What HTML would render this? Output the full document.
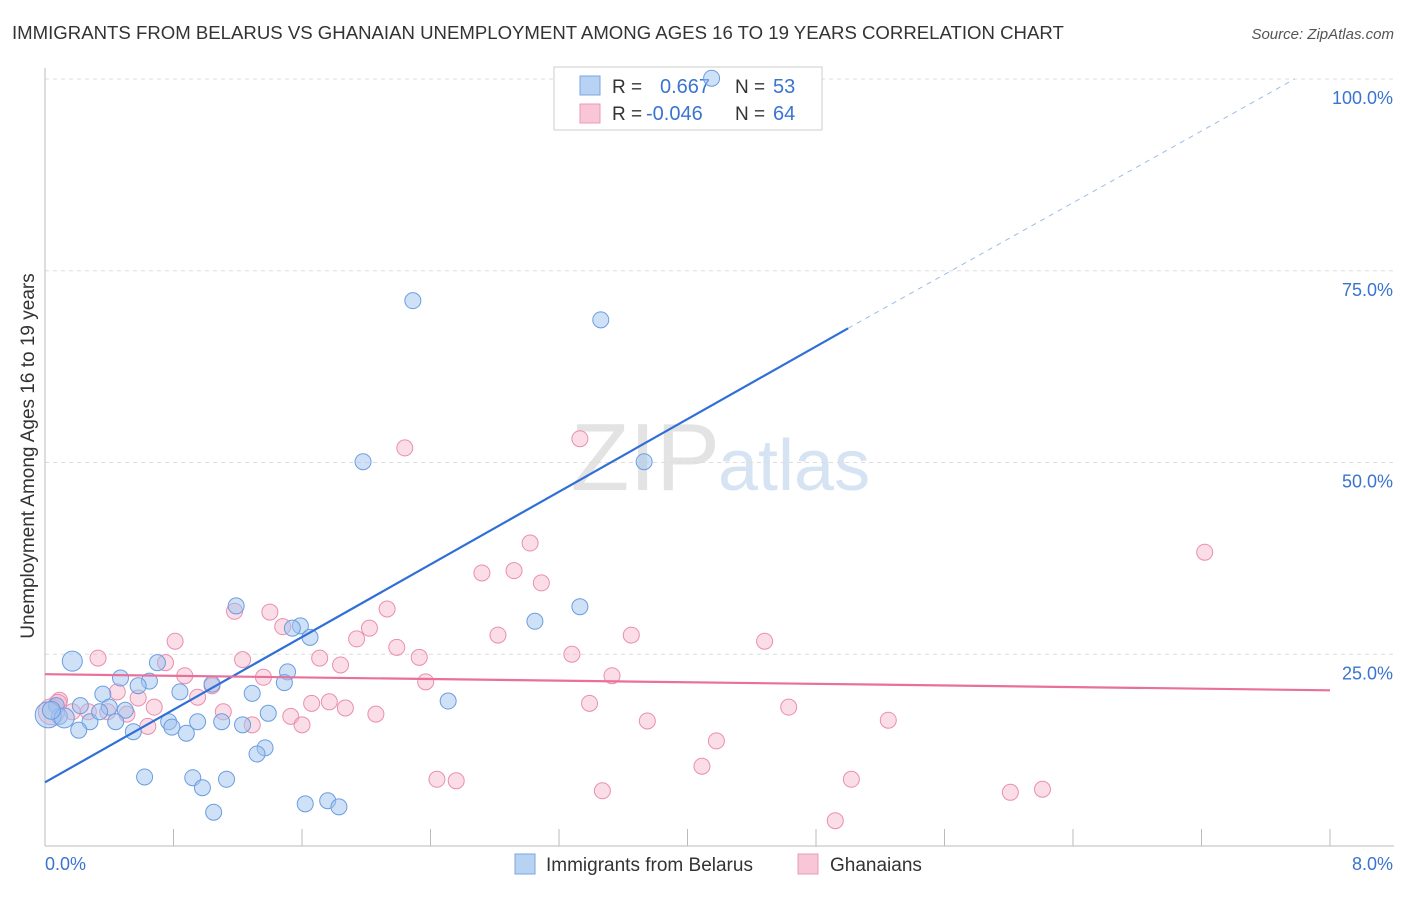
<!DOCTYPE html>
<html><head><meta charset="utf-8"><style>
body{margin:0;background:#fff;font-family:"Liberation Sans",sans-serif}
svg text{font-family:"Liberation Sans",sans-serif}
</style></head><body>
<svg id="chart" width="1406" height="892" xmlns="http://www.w3.org/2000/svg">
<text x="12" y="39" font-size="18.6" fill="#333">IMMIGRANTS FROM BELARUS VS GHANAIAN UNEMPLOYMENT AMONG AGES 16 TO 19 YEARS CORRELATION CHART</text>
<text x="1394" y="39" font-size="15" fill="#555" text-anchor="end" font-style="italic">Source: ZipAtlas.com</text>
<text x="720" y="490" font-size="96" fill="#e3e3e3" text-anchor="end" font-family="Liberation Serif">ZIP</text>
<text x="718" y="490" font-size="72" fill="#d6e3f3">atlas</text>
<g id="grid"></g>
<g id="axes"></g>
<g>
<rect x="554" y="67" width="268" height="63" fill="#fff" stroke="#ccc"/>
<rect x="580" y="76" width="20" height="19" fill="#b8d2f3" stroke="#7aa6e0"/>
<rect x="580" y="104" width="20" height="19" fill="#f8c6d6" stroke="#e99ab4"/>
<text x="612" y="93" font-size="19" fill="#333">R = </text><text x="660" y="93" font-size="20" fill="#3a74d0">0.667</text>
<text x="735" y="93" font-size="19" fill="#333">N = </text><text x="773" y="93" font-size="20" fill="#3a74d0">53</text>
<text x="612" y="120" font-size="19" fill="#333">R = </text><text x="646" y="120" font-size="20" fill="#3a74d0">-0.046</text>
<text x="735" y="120" font-size="19" fill="#333">N = </text><text x="773" y="120" font-size="20" fill="#3a74d0">64</text>
</g>
<g id="marks"></g>
<text transform="translate(34,456) rotate(-90)" font-size="19" fill="#333" text-anchor="middle">Unemployment Among Ages 16 to 19 years</text>
<g>
<rect x="515" y="854" width="20" height="20" fill="#b8d2f3" stroke="#7aa6e0"/>
<text x="546" y="871" font-size="19" fill="#333">Immigrants from Belarus</text>
<rect x="798" y="854" width="20" height="20" fill="#f8c6d6" stroke="#e99ab4"/>
<text x="830" y="871" font-size="19" fill="#333">Ghanaians</text>
</g>
</svg>
<script>
const xTicks=[0,0.8,1.6,2.4,3.2,4,4.8,5.6,6.4,7.2,8];
const yTicks=[25,50,75,100];
const yTickLabels=["25.0%","50.0%","75.0%","100.0%"];
const blueX=[4.15,2.29,3.46,1.98,3.73,1.19,3.33,3.05,1.59,1.54,1.65,0.17,0.70,0.47,1.51,0.65,1.49,1.04,0.84,0.36,1.29,2.51,0.58,0.07,0.22,0.40,0.50,0.09,0.28,0.44,0.77,0.95,1.10,1.23,0.79,1.39,0.21,0.55,0.88,1.37,1.32,0.62,0.92,1.13,0.98,1.62,1.76,1.83,1.05,0.02,0.12,0.04,0.34];
const blueY=[100.1,71.1,68.6,50.1,50.1,31.3,31.2,29.3,28.7,28.4,27.2,24.1,23.9,21.9,22.7,21.5,21.3,21.1,20.1,19.8,19.9,18.9,20.9,18.3,18.3,18.1,17.7,16.9,16.2,16.2,16.2,16.2,16.2,15.8,15.5,17.3,15.1,14.9,14.7,12.8,12.0,9.0,8.9,8.7,7.6,5.5,5.9,5.1,4.4,17.1,16.7,17.7,17.5];
const blueR=[8,8,8,8,8,8,8,8,8,8,8,10,8,8,8,8,8,8,8,8,8,8,8,8,8,8,8,8,8,8,8,8,8,8,8,8,8,8,8,8,8,8,8,8,8,8,8,8,8,13,10,9,8];
const pinkX=[3.33,2.24,3.02,7.22,2.72,2.92,3.09,1.40,2.13,1.18,2.02,1.48,2.82,3.65,0.81,4.48,1.94,2.19,0.33,0.75,1.23,1.71,2.33,3.28,1.84,0.87,1.36,3.53,2.37,1.04,0.45,0.58,0.95,1.66,1.77,3.39,4.63,0.09,0.17,0.27,0.39,0.51,0.68,1.11,1.53,1.87,2.06,0.64,1.29,1.60,3.75,5.25,4.18,4.09,2.44,2.56,5.02,3.47,6.01,6.21,4.92,0.04,0.08];
const pinkY=[53.1,51.9,39.5,38.3,35.6,35.9,34.3,30.5,30.9,30.6,28.4,28.6,27.5,27.5,26.7,26.7,27.0,25.9,24.5,23.9,24.3,24.5,24.6,25.0,23.6,22.2,22.0,22.2,21.4,20.9,20.1,19.3,19.4,18.6,18.8,18.6,18.1,19.0,17.5,17.5,17.5,17.2,18.1,17.5,16.9,18.0,17.2,15.6,15.8,15.8,16.3,16.4,13.7,10.4,8.7,8.5,8.7,7.2,7.0,7.4,3.3,17.5,18.6];
const blueTrend=[8.3,67.5];const blueTrendX=[0,5.0];const blueDashEnd=[7.78,100.0];
const pinkTrend=[22.4,20.3];

const X0=45,X1=1330,Y0=846,Y100=79;
const sx=v=>X0+(X1-X0)*v/8;
const sy=v=>Y0-(Y0-Y100)*v/100;
const NS="http://www.w3.org/2000/svg";
function mk(parent,tag,attrs){const e=document.createElementNS(NS,tag);for(const k in attrs)e.setAttribute(k,attrs[k]);document.getElementById(parent).appendChild(e);return e;}
yTicks.forEach((t,i)=>{
 const l=mk('grid','line',{x1:X0,x2:1394,y1:sy(t),y2:sy(t),stroke:'#ddd','stroke-dasharray':'4,4'});
 
 
 const tx=mk('axes','text',{x:1393,y:sy(t)+25,'font-size':18,fill:'#3a74d0','text-anchor':'end'});
 tx.textContent=yTickLabels[i];
 
 
});
const ax=mk('axes','line',{x1:X0,x2:X1+64,y1:Y0,y2:Y0,stroke:'#bbb'});


const ay=mk('axes','line',{x1:X0,x2:X0,y1:68,y2:Y0,stroke:'#bbb'});


xTicks.forEach(t=>{
 const l=mk('axes','line',{x1:sx(t),x2:sx(t),y1:Y0,y2:Y0-17,stroke:'#bbb'});
 
 
});
[[0,"0.0%","start",45],[8,"8.0%","end",1393]].forEach(a=>{
 const tx=mk('axes','text',{x:a[3],y:870,'font-size':18,fill:'#3a74d0','text-anchor':a[2]});
 tx.textContent=a[1];
 
 
});
pinkX.forEach((x,i)=>{
 const c=mk('marks','circle',{cx:sx(x),cy:sy(pinkY[i]),r:i>=61?(i==61?13:9):8,fill:'rgba(244,170,196,0.4)',stroke:'#e98fae','stroke-width':1});
 
 
});
blueX.forEach((x,i)=>{
 const c=mk('marks','circle',{cx:sx(x),cy:sy(blueY[i]),r:blueR[i],fill:'rgba(160,196,240,0.5)',stroke:'#6b9de0','stroke-width':1});
 
 
});
const bl=mk('marks','line',{x1:sx(blueTrendX[0]),y1:sy(blueTrend[0]),x2:sx(blueTrendX[1]),y2:sy(blueTrend[1]),stroke:'#2f6fd6','stroke-width':2.2});


const bd=mk('marks','line',{x1:sx(blueTrendX[1]),y1:sy(blueTrend[1]),x2:sx(blueDashEnd[0]),y2:sy(blueDashEnd[1]),stroke:'#9dbbe8','stroke-width':1,'stroke-dasharray':'5,5'});


const pl=mk('marks','line',{x1:sx(0),y1:sy(pinkTrend[0]),x2:sx(8),y2:sy(pinkTrend[1]),stroke:'#e8709a','stroke-width':2.2});


</script>
</body></html>
